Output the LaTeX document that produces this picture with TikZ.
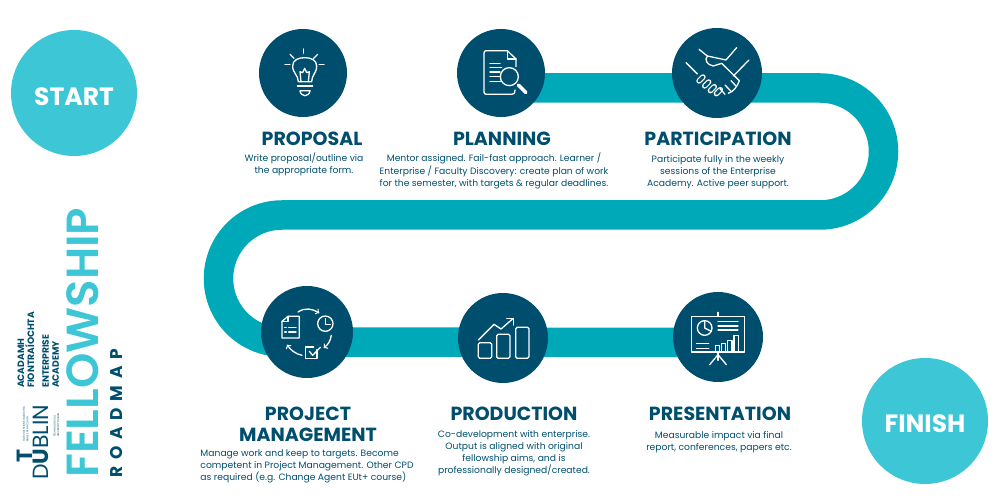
\documentclass[tikz,border=0pt]{standalone}
\usepackage{fontspec}
\setmainfont{Poppins}
\newfontfamily\poppinssemi{Poppins SemiBold}
\usetikzlibrary{arrows,backgrounds}

\definecolor{darkteal}{HTML}{004E6E}
\definecolor{bandteal}{HTML}{00A9B8}
\definecolor{lightteal}{HTML}{3CC6D6}

\tikzset{
    stepcircle/.style={circle, fill=darkteal, minimum size=90pt, inner sep=0pt},
    endcircle/.style={circle, fill=lightteal, minimum size=126pt, inner sep=0pt, text=white, font=\fontsize{25}{25}\selectfont\bfseries},
    steptitle/.style={text=darkteal, align=center, inner sep=0pt, font=\fontsize{19}{21}\selectfont\bfseries},
    steptext/.style={text=darkteal, align=center, inner sep=0pt, font=\fontsize{9.2}{12.1}\selectfont},
    sidetext/.style={rotate=90, inner sep=0pt, anchor=base west},
    sideblock/.style={rotate=90, inner sep=0pt, anchor=west, text=darkteal, align=left},
    icon/.style={draw=white, line width=1.3pt, line join=round, line cap=round},
}

\begin{document}
\begin{tikzpicture}[x=1pt, y=1pt]
\useasboundingbox (0, 0) rectangle (1000, 500);

\node[endcircle] (start) at (74, 407) {\raisebox{-12.75pt}[0pt][0pt]{START}};
\node[endcircle] (finish) at (925, 79) {\raisebox{-11.75pt}[0pt][0pt]{FINISH}};

\node[stepcircle, minimum size=88pt] (proposal) at (303, 427) {};
\node[stepcircle, minimum size=88pt] (planning) at (501, 427) {};
\node[stepcircle] (participation) at (717, 427) {};
\node[stepcircle, minimum size=92pt] (project) at (307, 168) {};
\node[stepcircle] (production) at (503, 162) {};
\node[stepcircle] (presentation) at (718, 163) {};

\begin{pgfonlayer}{background}
\draw[bandteal, line width=29.5pt] ([yshift=-15pt]planning.center) -- (820, 412)
    arc[start angle=90, end angle=-90, radius=63.5] -- (282, 285)
    arc[start angle=90, end angle=270, radius=63.5] -- ([yshift=-5.5pt]presentation.center);
\end{pgfonlayer}

% titles
\node[steptitle] (proposaltitle) at (312, 361) {PROPOSAL};
\node[steptitle] (planningtitle) at (502, 361) {PLANNING};
\node[steptitle] (participationtitle) at (718, 361) {PARTICIPATION};
\node[steptitle] (projecttitle) at (308, 75.5) {PROJECT\\MANAGEMENT};
\node[steptitle] (productiontitle) at (514, 86) {PRODUCTION};
\node[steptitle] (presentationtitle) at (720, 86) {PRESENTATION};

% body text
\node[steptext] (proposaltext) at (304, 335.5) {Write proposal/outline via\\the appropriate form.};
\node[steptext] (planningtext) at (494, 329) {Mentor assigned. Fail-fast approach. Learner /\\Enterprise / Faculty Discovery: create plan of work\\for the semester, with targets \& regular deadlines.};
\node[steptext] (participationtext) at (718, 327.5) {Participate fully in the weekly\\sessions of the Enterprise\\Academy. Active peer support.};
\node[steptext, align=left] (projecttext) at (307, 33.5) {Manage work and keep to targets. Become\\competent in Project Management. Other CPD\\as required (e.g. Change Agent EUt+ course)};
\node[steptext] (productiontext) at (514, 47) {Co-development with enterprise.\\Output is aligned with original\\fellowship aims, and is\\professionally designed/created.};
\node[steptext] (presentationtext) at (719, 58) {Measurable impact via final\\report, conferences, papers etc.};

% side texts
\node[sidetext, text=lightteal, font=\fontsize{45}{46}\selectfont\poppinssemi] (fellowship) at (98, 22) {FELLOWSHIP};
\node[sidetext, text=darkteal, font=\fontsize{17}{17}\selectfont\bfseries\addfontfeature{LetterSpace=40}] (roadmap) at (122, 22) {ROADMAP};
\node[sideblock, font=\fontsize{9.2}{10}\selectfont\bfseries] (academy) at (26, 112) {ACADAMH\\FIONTRAÍOCHTA};
\node[sideblock, font=\fontsize{9.2}{10}\selectfont\bfseries] (enterprise) at (50.5, 112) {ENTERPRISE\\ACADEMY};
\node[sidetext, text=darkteal, font=\fontsize{22}{22}\selectfont] (dublin) at (48, 20) {D\textbf{U}BLIN};
\node[sidetext, text=darkteal, font=\fontsize{22}{22}\selectfont\bfseries] (tee) at (32, 37) {T};
\node[sideblock, font=\fontsize{2.6}{3.4}\selectfont] (irish) at (25.5, 58) {OLLSCOIL TEICNEOLAÍOCHTA\\BHAILE ÁTHA CLIATH};
\node[sideblock, font=\fontsize{2.6}{3.4}\selectfont] (english) at (56.5, 63) {TECHNOLOGICAL\\UNIVERSITY DUBLIN};

% bulb
\begin{scope}[shift={(265, 470)}, x=0.3333pt, y=-0.3333pt, icon]
\draw (100, 155) .. controls (100, 135) and (83, 130) .. (83, 108) .. controls (83, 90) and (100, 83) .. (119, 83)
    .. controls (138, 83) and (155, 90) .. (155, 108) .. controls (155, 130) and (140, 135) .. (140, 155) -- cycle;
\draw (108, 155) -- (105, 125) -- (113, 128) -- (119, 115) -- (125, 128) -- (133, 125) -- (130, 155);
\draw (97, 168) -- (143, 168);
\draw (105, 182) -- (135, 182) .. controls (135, 192) and (125, 197) .. (120, 197) .. controls (115, 197) and (105, 192) .. (105, 182);
\draw (116, 57) -- (116, 70);
\draw (75, 73) -- (87, 85);
\draw (158, 73) -- (146, 85);
\draw (60, 104) -- (75, 104);
\draw (162, 104) -- (177, 104);
\end{scope}

% document and lens
\begin{scope}[shift={(470, 465)}, x=0.3333pt, y=-0.3333pt, icon]
\draw (138, 95) -- (138, 72) -- (112, 47) -- (50, 47) .. controls (44, 47) and (42, 49) .. (42, 55) -- (42, 170)
    .. controls (42, 176) and (44, 178) .. (50, 178) -- (125, 178) .. controls (131, 178) and (134, 176) .. (135, 165);
\draw (112, 47) -- (112, 72) -- (138, 72);
\draw (60, 85) -- (90, 85);
\draw (60, 97) -- (95, 97);
\draw (60, 111) -- (90, 111);
\draw (60, 125) -- (88, 125);
\draw (60, 139) -- (92, 139);
\draw (118, 125) circle[radius=27];
\draw[line width=3.4pt] (145, 150) -- (168, 173);
\end{scope}

% handshake
\begin{scope}[shift={(620, 490)}, x=0.3333pt, y=-0.3333pt, icon]
\draw (237, 118) -- (262, 138) -- (318, 150) -- (350, 113);
\draw (262, 138) .. controls (252, 150) and (262, 165) .. (280, 168) -- (305, 160) -- (358, 212)
    .. controls (352, 230) and (340, 245) .. (325, 250);
\draw (198, 158) -- (232, 192);
\draw (387, 150) -- (340, 198);
\foreach \x/\y in {243/207, 260/222, 277/236, 295/245}
    \draw[line width=5.4pt] (\x-6, \y+6) -- (\x+6, \y-6);
\foreach \x/\y in {243/207, 260/222, 277/236, 295/245}
    \draw[draw=darkteal, line width=3pt] (\x-6, \y+6) -- (\x+6, \y-6);
\draw (333, 212) -- (348, 228);
\draw (315, 225) -- (332, 243);
\draw (300, 236) -- (315, 253);
\end{scope}

% project cycle
\begin{scope}[shift={(272, 202)}, x=0.3333pt, y=-0.3333pt, icon]
\draw (30, 70) -- (48, 55) -- (82, 55) -- (82, 120) -- (30, 120) -- cycle;
\draw (48, 55) -- (48, 70) -- (30, 70);
\draw (38, 88) -- (43, 88);
\draw (38, 102) -- (43, 102);
\draw (50, 88) -- (72, 88);
\draw (50, 102) -- (72, 102);
\draw[->] (78, 42) .. controls (100, 28) and (120, 32) .. (142, 45);
\draw (160, 77) circle[radius=23];
\draw (160, 62) -- (160, 79) -- (175, 79);
\draw[->] (178, 112) .. controls (175, 130) and (168, 140) .. (155, 150);
\draw (135, 155) -- (135, 182) -- (100, 182) -- (100, 147) -- (125, 147);
\draw (112, 160) -- (122, 172) -- (145, 148);
\draw[->] (90, 172) .. controls (70, 168) and (55, 155) .. (45, 140);
\end{scope}

% bar chart
\begin{scope}[shift={(470, 195)}, x=0.3333pt, y=-0.3333pt, icon, rounded corners=1.5pt]
\draw (25, 113) rectangle (65, 160);
\draw (80, 88) rectangle (120, 160);
\draw (137, 67) rectangle (177, 160);
\draw[sharp corners] (25, 105) -- (72, 58) -- (93, 72) -- (130, 40);
\draw[sharp corners] (110, 40) -- (130, 40) -- (130, 60);
\end{scope}

% presentation board
\begin{scope}[shift={(683, 197)}, x=0.3333pt, y=-0.3333pt, icon]
\draw (105, 28) -- (105, 40);
\draw (25, 40) rectangle (185, 147);
\draw (65, 75) circle[radius=22];
\draw (65, 53) -- (65, 75) -- (85, 85);
\foreach \y in {56, 69, 81}
    \draw (105, \y) -- (165, \y);
\foreach \y in {122, 135}
    \draw[line width=0.8pt] (40, \y) -- (78, \y);
\draw (97, 128) rectangle (110, 145);
\draw (115, 122) rectangle (127, 145);
\draw (133, 113) rectangle (147, 145);
\draw (153, 97) rectangle (167, 145);
\draw (105, 147) -- (105, 172);
\draw (105, 155) -- (80, 185);
\draw (105, 155) -- (130, 185);
\end{scope}
\end{tikzpicture}
\end{document}
